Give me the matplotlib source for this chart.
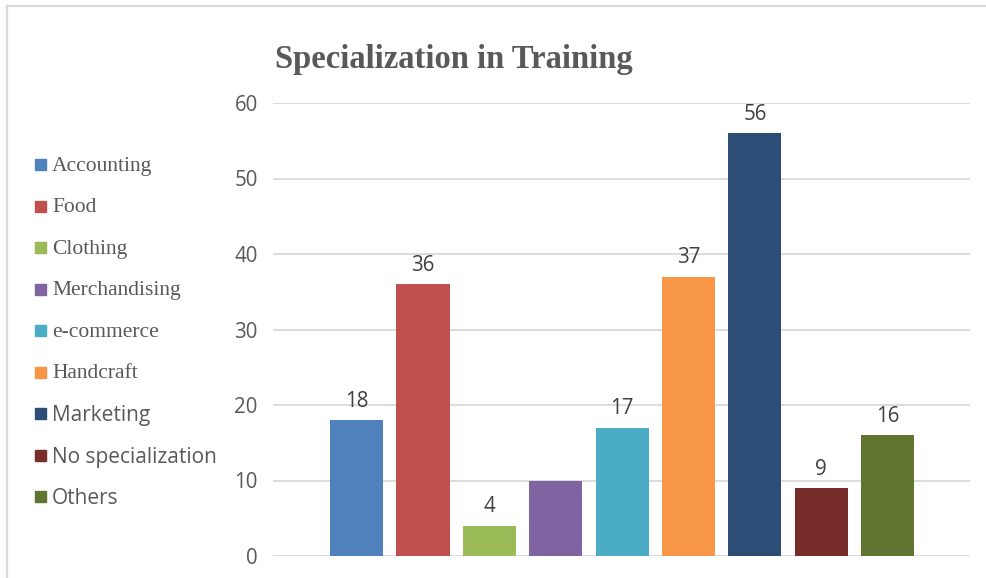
import matplotlib
matplotlib.use("Agg")
import matplotlib.pyplot as plt
from matplotlib.patches import Rectangle
from matplotlib.lines import Line2D

# data
categories = ["Accounting", "Food", "Clothing", "Merchandising", "e-commerce",
              "Handcraft", "Marketing", "No specialization", "Others"]
values = [18, 36, 4, 10, 17, 37, 56, 9, 16]
show_label = [True, True, True, False, True, True, True, True, True]
colors = ["#4f81bd", "#c0504d", "#9bbb59", "#8064a2", "#4bacc6",
          "#f79646", "#2c4d75", "#772c2a", "#5f7530"]
serif_legend = [True, True, True, True, True, True, False, False, False]
yticks = [0, 10, 20, 30, 40, 50, 60]

W, H = 987, 578
fig = plt.figure(figsize=(W / 100, H / 100), dpi=100)

def fx(x):
    return x / W

def fy(y):
    return 1 - y / H

# plot area
ax = fig.add_axes([fx(273), fy(556), fx(970) - fx(273), fy(103) - fy(556)])
xpos = list(range(len(categories)))
ax.bar(xpos, values, width=0.8, color=colors, zorder=3)
ax.set_xlim(-1.26, 9.24)
ax.set_ylim(0, 60)
ax.set_yticks(yticks)
ax.set_xticks([])
for s in ax.spines.values():
    s.set_visible(False)
ax.grid(axis="y", color="#d9d9d9", linewidth=1.3, zorder=0)
ax.tick_params(axis="y", length=0, pad=11, labelsize=14.8, labelcolor="#595959")
for lab in ax.get_yticklabels():
    lab.set_fontfamily("Open Sans")

for x, v, show in zip(xpos, values, show_label):
    if show:
        ax.annotate(str(v), (x, v), xytext=(0, 6), textcoords="offset points",
                    ha="center", va="bottom", fontsize=14.8, color="#404040",
                    family="Open Sans")

# title
fig.text(fx(454), fy(68), "Specialization in Training", ha="center", va="baseline",
         fontsize=23.5, fontweight="bold", color="#595959", family="Liberation Serif")

# legend, drawn by hand because the entries mix two fonts
leg_y0 = 170
leg_step = 41.5
for i, (name, col, serif) in enumerate(zip(categories, colors, serif_legend)):
    yb = leg_y0 + i * leg_step
    fig.patches.append(Rectangle((fx(35), fy(yb)), fx(11), fy(0) - fy(11),
                                 transform=fig.transFigure, color=col))
    if serif:
        fig.text(fx(52), fy(yb + 1), name, ha="left", va="baseline", fontsize=15.5,
                 color="#595959", family="Liberation Serif")
    else:
        fig.text(fx(52), fy(yb + 2), name, ha="left", va="baseline", fontsize=15,
                 color="#595959", family="Open Sans")

# chart border (top and left)
fig.add_artist(Line2D([fx(7), fx(987)], [fy(6), fy(6)], color="#d9d9d9", lw=1.6,
                      transform=fig.transFigure))
fig.add_artist(Line2D([fx(7), fx(7)], [fy(6), fy(578)], color="#d9d9d9", lw=1.6,
                      transform=fig.transFigure))

fig.savefig("out.png", dpi=100, facecolor="white")
